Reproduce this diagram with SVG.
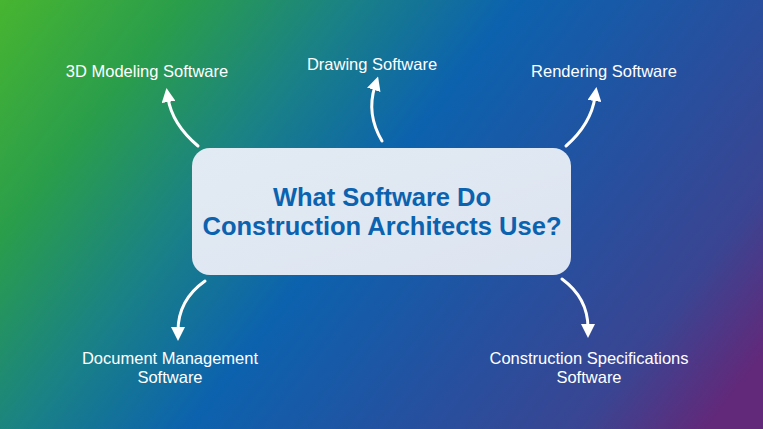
<svg xmlns="http://www.w3.org/2000/svg" width="763" height="429" viewBox="0 0 763 429">
<defs>
<linearGradient id="bg" x1="0" y1="0" x2="650" y2="500" gradientUnits="userSpaceOnUse">
<stop offset="0" stop-color="#47b530"/>
<stop offset="0.18" stop-color="#2a9d4c"/>
<stop offset="0.34" stop-color="#1a8186"/>
<stop offset="0.5" stop-color="#0c62ae"/>
<stop offset="0.7" stop-color="#2451a0"/>
<stop offset="0.88" stop-color="#3a4592"/>
<stop offset="1.05" stop-color="#62297a"/>
</linearGradient>
<linearGradient id="box" x1="0" y1="0" x2="1" y2="1">
<stop offset="0" stop-color="#e2ebf3"/>
<stop offset="1" stop-color="#dde4f1"/>
</linearGradient>
<marker id="ah" viewBox="0 0 14 14" refX="4" refY="7" markerWidth="14" markerHeight="14" markerUnits="userSpaceOnUse" orient="auto">
<path d="M0,0 L14,7 L0,14 Z" fill="#ffffff"/>
</marker>
<style>
.lbl{font-family:"Liberation Sans",Arial,sans-serif;font-size:16.5px;fill:#ffffff;text-anchor:middle}
.title{font-family:"Liberation Sans",Arial,sans-serif;font-size:25.5px;font-weight:bold;fill:#0b63b0;text-anchor:middle}
.con{fill:none;stroke:#ffffff;stroke-width:3;stroke-linecap:round;marker-end:url(#ah)}
</style>
</defs>
<rect x="0" y="0" width="763" height="429" fill="url(#bg)"/>
<g id="connectors">
<path class="con" d="M198,146 Q172,124 168,98"/>
<path class="con" d="M382,141 Q366,114 375,86"/>
<path class="con" d="M566,146 Q591,124 595,97"/>
<path class="con" d="M205,281 Q178,300 178,331"/>
<path class="con" d="M562,279 Q588,298 588,328"/>
</g>
<g id="center">
<rect x="192" y="148" width="379" height="127" rx="18" fill="url(#box)"/>
<text class="title" x="382" y="206">What Software Do</text>
<text class="title" x="382" y="235">Construction Architects Use?</text>
</g>
<g id="n-3d"><text class="lbl" x="147" y="77">3D Modeling Software</text></g>
<g id="n-drawing"><text class="lbl" x="372" y="70">Drawing Software</text></g>
<g id="n-rendering"><text class="lbl" x="604" y="77">Rendering Software</text></g>
<g id="n-document"><text class="lbl" x="170" y="364">Document Management</text><text class="lbl" x="170" y="383">Software</text></g>
<g id="n-specs"><text class="lbl" x="589" y="364">Construction Specifications</text><text class="lbl" x="589" y="383">Software</text></g>
</svg>
